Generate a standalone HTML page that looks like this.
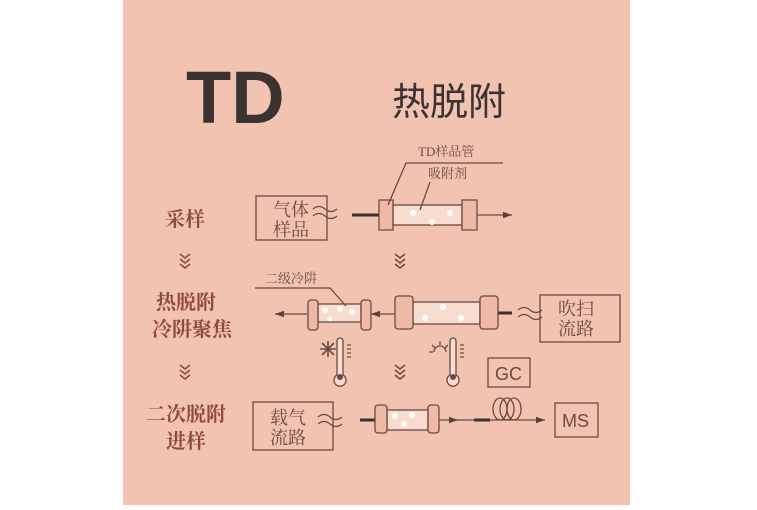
<!DOCTYPE html>
<html><head><meta charset="utf-8"><style>
html,body{margin:0;padding:0;background:#fff;width:757px;height:510px;overflow:hidden}
svg{display:block}
.cn{font-family:"Liberation Serif","Noto Serif CJK SC",serif}
</style></head><body>
<svg width="757" height="510" viewBox="0 0 757 510" xmlns="http://www.w3.org/2000/svg">
<defs>
<marker id="ar" markerWidth="8" markerHeight="6" refX="7" refY="3" orient="auto"><path d="M0,0.5 L7,3 L0,5.5 Z" fill="#5a4038"/></marker>
</defs>
<rect x="123" y="0" width="507" height="505" fill="#f3c3b2"/>
<text x="186" y="123" font-family="Liberation Sans,sans-serif" font-weight="bold" font-size="74" fill="#3a3332">TD</text>
<text x="392" y="115" font-size="38" fill="#3a3332" font-family="Liberation Sans,'Noto Sans CJK SC',sans-serif">热脱附</text>

<g class="cn" font-size="20" fill="#8e4a3e" font-weight="bold" text-anchor="middle">
<text x="185" y="226">采样</text>
<text x="186" y="309">热脱附</text>
<text x="192" y="336">冷阱聚焦</text>
<text x="186" y="421">二次脱附</text>
<text x="186" y="448">进样</text>
</g>
<g fill="none" stroke="#8e4a3e" stroke-width="1.6">
<path d="M180,254 l5,4 l5,-4 M180,259 l5,4 l5,-4 M180,264 l5,4 l5,-4"/>
<path d="M180,365 l5,4 l5,-4 M180,370 l5,4 l5,-4 M180,375 l5,4 l5,-4"/>
</g>
<g fill="none" stroke="#6b4a40" stroke-width="1.6">
<path d="M395,254 l5,4 l5,-4 M395,259 l5,4 l5,-4 M395,264 l5,4 l5,-4"/>
<path d="M395,365 l5,4 l5,-4 M395,370 l5,4 l5,-4 M395,375 l5,4 l5,-4"/>
</g>

<g stroke="#6b4a40" fill="none" stroke-width="1.3">
<rect x="256" y="196" width="71" height="44"/>
<path d="M313,209 q6,-5 12,0 t12,0 M313,216 q6,-5 12,0 t12,0"/>
<line x1="352" y1="215" x2="379" y2="215" stroke="#3a3332" stroke-width="3"/>
<rect x="393" y="205" width="69" height="20" fill="#f8dcd0"/>
<path d="M379,200 h14 v30 h-14 z" fill="#efb9a5"/>
<path d="M462,200 h15 v30 h-15 z" fill="#efb9a5"/>
<line x1="477" y1="215" x2="512" y2="215" marker-end="url(#ar)"/>
<path d="M503,163 H406 L388,205"/>
<path d="M430,182 L420,210"/>
<line x1="307" y1="314" x2="275" y2="314" marker-end="url(#ar)"/>
<rect x="318" y="304" width="43" height="18" fill="#f8dcd0"/>
<rect x="308" y="300" width="10" height="30" rx="3" fill="#efb9a5"/>
<rect x="361" y="300" width="10" height="30" rx="3" fill="#efb9a5"/>
<line x1="395" y1="314" x2="371" y2="314" marker-end="url(#ar)"/>
<path d="M255,288 H330 L346,306"/>
<rect x="413" y="302" width="67" height="22" fill="#f8dcd0"/>
<rect x="395" y="296" width="18" height="33" rx="3" fill="#efb9a5"/>
<rect x="480" y="296" width="18" height="33" rx="3" fill="#efb9a5"/>
<line x1="498" y1="313" x2="512" y2="313" stroke="#3a3332" stroke-width="3"/>
<path d="M518,310 q6,-5 12,0 t12,0 M518,317 q6,-5 12,0 t12,0"/>
<rect x="540" y="295" width="80" height="47"/>
<path d="M337,375 a6,6 0 1 0 6,0 v-34 a3,3 0 0 0 -6,0 z" fill="#f8dcd0"/>
<path d="M450,375 a6,6 0 1 0 6,0 v-34 a3,3 0 0 0 -6,0 z" fill="#f8dcd0"/>
<path d="M347,345 h4 M347,349 h4 M347,353 h4 M347,357 h4 M460,345 h4 M460,349 h4 M460,353 h4 M460,357 h4"/>
<path d="M322,343 l12,12 M334,343 l-12,12 M328,341 v16 M320,349 h16" stroke-width="1.6"/>
<path d="M434,352 a6,6 0 0 1 12,0" />
<path d="M440,341 v4 M432,345 l3,3 M448,345 l-3,3 M429,352 h4"/>
<rect x="488" y="358" width="42" height="29"/>
<rect x="253" y="402" width="80" height="48"/>
<path d="M318,417 q6,-5 12,0 t12,0 M318,424 q6,-5 12,0 t12,0"/>
<line x1="360" y1="420" x2="376" y2="420" stroke="#3a3332" stroke-width="3"/>
<rect x="387" y="410" width="41" height="20" fill="#f8dcd0"/>
<rect x="375" y="405" width="12" height="28" rx="3" fill="#efb9a5"/>
<rect x="428" y="405" width="11" height="28" rx="3" fill="#efb9a5"/>
<line x1="439" y1="420" x2="458" y2="420" marker-end="url(#ar)"/>
<line x1="456" y1="420" x2="474" y2="420"/>
<line x1="474" y1="420" x2="490" y2="420" stroke="#3a3332" stroke-width="3"/>
<line x1="490" y1="420" x2="545" y2="420" marker-end="url(#ar)"/>
<ellipse cx="500" cy="409" rx="7" ry="11"/>
<ellipse cx="507" cy="409" rx="7" ry="11"/>
<ellipse cx="514" cy="409" rx="7" ry="11"/>
<rect x="555" y="403" width="43" height="34"/>
</g>
<g fill="#6b4a40">
<circle cx="340" cy="377" r="3"/><circle cx="453" cy="377" r="3"/>
</g>
<g fill="#fff">
<circle cx="413" cy="213" r="3"/><circle cx="450" cy="213" r="3"/><circle cx="432" cy="222" r="3"/>
<circle cx="325" cy="310" r="3"/><circle cx="340" cy="309" r="3"/><circle cx="352" cy="312" r="3"/><circle cx="330" cy="319" r="2.5"/>
<circle cx="443" cy="307" r="3"/><circle cx="425" cy="318" r="3"/><circle cx="461" cy="318" r="3"/>
<circle cx="395" cy="416" r="3"/><circle cx="412" cy="415" r="3"/><circle cx="404" cy="424" r="3"/>
</g>
<g class="cn" fill="#6b4a40" font-size="18">
<text x="273" y="216">气体</text><text x="273" y="236">样品</text>
<text x="558" y="315">吹扫</text><text x="558" y="335">流路</text>
<text x="270" y="424">载气</text><text x="270" y="444">流路</text>
<text x="418" y="156" font-size="13">TD样品管</text>
<text x="428" y="178" font-size="13">吸附剂</text>
<text x="265" y="283" font-size="13">二级冷阱</text>
</g>
<g font-family="Liberation Sans,sans-serif" fill="#6b4a40" font-size="18">
<text x="495" y="380">GC</text>
<text x="562" y="427">MS</text>
</g>
</svg>
</body></html>
